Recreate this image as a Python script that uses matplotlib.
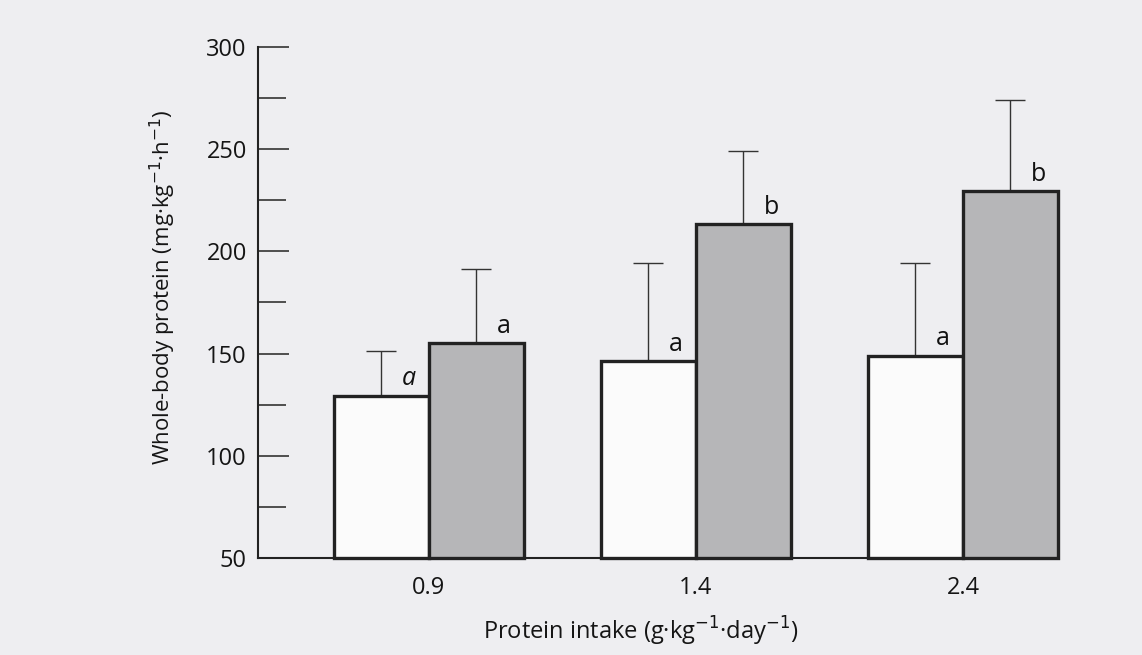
import matplotlib
matplotlib.use("Agg")
import matplotlib.pyplot as plt
import numpy as np

# ---- data ----
categories = ["0.9", "1.4", "2.4"]
white_values = [129.5, 146.5, 149.0]
white_err_top = [151.5, 194.5, 194.5]
grey_values = [155.0, 213.5, 229.5]
grey_err_top = [191.5, 249.0, 274.0]
white_letters = ["a", "a", "a"]
grey_letters = ["a", "b", "b"]
y_ticks = [50, 100, 150, 200, 250, 300]
y_minor = [75, 125, 175, 225, 275]

plt.rcParams['font.family'] = ['Open Sans', 'DejaVu Sans']

bg = "#eeeef1"
fig = plt.figure(figsize=(11.42, 6.55), dpi=100, facecolor=bg)
ax = fig.add_axes([258/1142, 1 - 558/655, (1058-258)/1142, (558-47)/655])
ax.set_facecolor(bg)

x = np.arange(len(categories))
w = 0.356
edge = "#222222"

wv = np.array(white_values)
gv = np.array(grey_values)
b1 = ax.bar(x - w/2, wv - 50, width=w, bottom=50, color="#fbfbfb", edgecolor=edge,
            linewidth=2.4, zorder=3)
b2 = ax.bar(x + w/2, gv - 50, width=w, bottom=50, color="#b6b6b8", edgecolor=edge,
            linewidth=2.4, zorder=3)
for p in list(b1) + list(b2):
    p.set_clip_on(False)

ax.errorbar(x - w/2, wv, yerr=[np.zeros_like(wv), np.array(white_err_top) - wv],
            fmt="none", ecolor="#333333", elinewidth=1.0, capsize=10.5, capthick=1.0, zorder=2)
ax.errorbar(x + w/2, gv, yerr=[np.zeros_like(gv), np.array(grey_err_top) - gv],
            fmt="none", ecolor="#333333", elinewidth=1.0, capsize=10.5, capthick=1.0, zorder=2)

for i in range(len(categories)):
    ax.annotate(white_letters[i], xy=(x[i] - w/2, wv[i]), xytext=(15, 3),
                textcoords="offset points", ha="left", va="bottom", fontsize=18,
                color="#111111", style="italic" if i == 0 else "normal")
    ax.annotate(grey_letters[i], xy=(x[i] + w/2, gv[i]), xytext=(15, 3),
                textcoords="offset points", ha="left", va="bottom", fontsize=18,
                color="#111111")

ax.set_xlim(-0.64, 2.356)
ax.set_ylim(50, 300)
ax.spines["top"].set_visible(False)
ax.spines["right"].set_visible(False)
for s in ["left", "bottom"]:
    ax.spines[s].set_linewidth(1.5)
    ax.spines[s].set_color("#222222")

ax.set_yticks(y_ticks)
ax.set_yticklabels([str(v) for v in y_ticks], fontsize=17, color="#151515")
ax.set_yticks(y_minor, minor=True)
ax.tick_params(axis="y", which="major", direction="in", length=22, width=1.2,
               color="#333333", pad=8)
ax.tick_params(axis="y", which="minor", direction="in", length=20, width=1.2,
               color="#333333")

ax.set_xticks(x)
ax.set_xticklabels(categories, fontsize=17, color="#151515")
ax.tick_params(axis="x", length=0, pad=13)

ax.set_xlabel("Protein intake (g·kg$^{-1}$·day$^{-1}$)", fontsize=17, color="#151515")
ax.xaxis.set_label_coords(0.479, -0.112)
ax.set_ylabel("Whole-body protein (mg·kg$^{-1}$·h$^{-1}$)", fontsize=16, color="#151515")
ax.yaxis.set_label_coords(-0.1, 0.53)

fig.savefig("out.png", dpi=100, facecolor=bg)
